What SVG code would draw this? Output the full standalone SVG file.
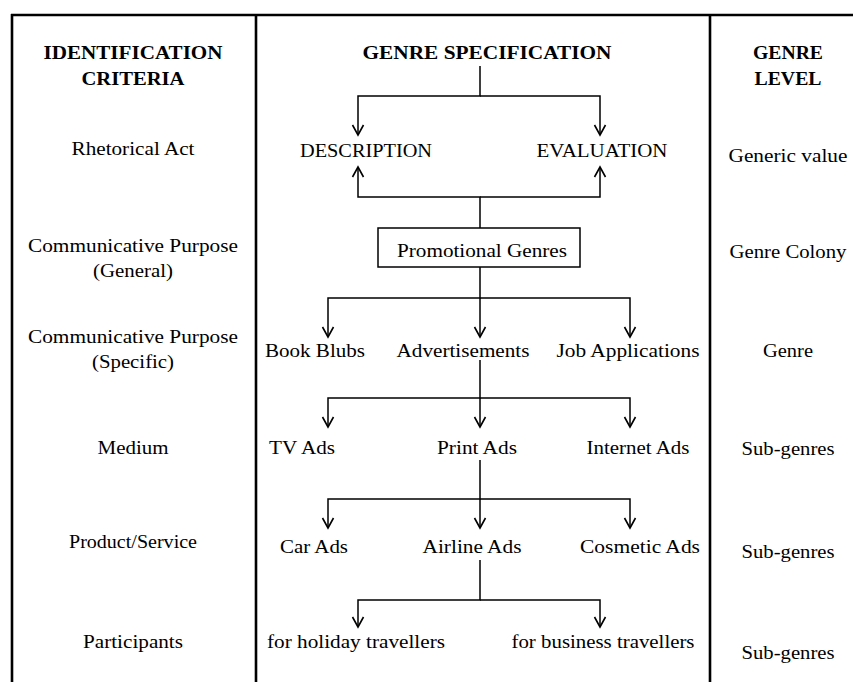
<svg xmlns="http://www.w3.org/2000/svg" width="853" height="682" viewBox="0 0 853 682">
  <style>
    .frame { stroke: #000; stroke-width: 2.6; fill: none; }
    .link { stroke: #000; stroke-width: 1.5; fill: none; }
    .arrow { marker-end: url(#open-arrow); }
    text { font-family: "Liberation Serif", "Times New Roman", serif; font-size: 18px; fill: #000; text-anchor: middle; }
    .head { font-weight: bold; }
  </style>
  <defs>
    <marker id="open-arrow" markerUnits="userSpaceOnUse" viewBox="-12 -7 14 14" markerWidth="14" markerHeight="14" refX="0" refY="0" orient="auto">
      <path d="M-10,-5.5 L0,0 L-10,5.5" fill="none" stroke="#000" stroke-width="1.6"/>
    </marker>
  </defs>

  <rect width="853" height="682" fill="#fff"/>

  <!-- table frame: top rule, left edge and two column dividers -->
  <g id="frame">
    <path class="frame" d="M11,15 H853"/>
    <path class="frame" d="M12,14 V682"/>
    <path class="frame" d="M256,15 V682"/>
    <path class="frame" d="M710,15 V682"/>
  </g>

  <!-- column headings -->
  <g id="heading-criteria">
    <text class="head" x="133" y="59" textLength="179" lengthAdjust="spacingAndGlyphs">IDENTIFICATION</text>
    <text class="head" x="133" y="85" textLength="103" lengthAdjust="spacingAndGlyphs">CRITERIA</text>
  </g>
  <g id="heading-specification">
    <text class="head" x="487" y="59" textLength="249" lengthAdjust="spacingAndGlyphs">GENRE SPECIFICATION</text>
  </g>
  <g id="heading-level">
    <text class="head" x="788" y="59" textLength="70" lengthAdjust="spacingAndGlyphs">GENRE</text>
    <text class="head" x="788" y="85" textLength="67" lengthAdjust="spacingAndGlyphs">LEVEL</text>
  </g>

  <!-- identification criteria column -->
  <g id="criteria">
    <text x="133" y="155" textLength="123" lengthAdjust="spacingAndGlyphs">Rhetorical Act</text>
    <text x="133" y="252" textLength="210" lengthAdjust="spacingAndGlyphs">Communicative Purpose</text>
    <text x="133" y="277" textLength="80" lengthAdjust="spacingAndGlyphs">(General)</text>
    <text x="133" y="343" textLength="210" lengthAdjust="spacingAndGlyphs">Communicative Purpose</text>
    <text x="133" y="368" textLength="82" lengthAdjust="spacingAndGlyphs">(Specific)</text>
    <text x="133" y="454" textLength="71" lengthAdjust="spacingAndGlyphs">Medium</text>
    <text x="133" y="548" textLength="128" lengthAdjust="spacingAndGlyphs">Product/Service</text>
    <text x="133" y="648" textLength="100" lengthAdjust="spacingAndGlyphs">Participants</text>
  </g>

  <!-- genre level column -->
  <g id="levels">
    <text x="788" y="162" textLength="119" lengthAdjust="spacingAndGlyphs">Generic value</text>
    <text x="788" y="258" textLength="117" lengthAdjust="spacingAndGlyphs">Genre Colony</text>
    <text x="788" y="357" textLength="50" lengthAdjust="spacingAndGlyphs">Genre</text>
    <text x="788" y="455" textLength="93" lengthAdjust="spacingAndGlyphs">Sub-genres</text>
    <text x="788" y="558" textLength="93" lengthAdjust="spacingAndGlyphs">Sub-genres</text>
    <text x="788" y="659" textLength="93" lengthAdjust="spacingAndGlyphs">Sub-genres</text>
  </g>

  <!-- genre specification nodes -->
  <g id="description"><text x="366" y="157" textLength="132" lengthAdjust="spacingAndGlyphs">DESCRIPTION</text></g>
  <g id="evaluation"><text x="602" y="157" textLength="131" lengthAdjust="spacingAndGlyphs">EVALUATION</text></g>
  <g id="promotional-genres">
    <rect x="378" y="228" width="202" height="39" fill="#fff" stroke="#000" stroke-width="1.5"/>
    <text x="482" y="257" textLength="170" lengthAdjust="spacingAndGlyphs">Promotional Genres</text>
  </g>
  <g id="book-blubs"><text x="315" y="357" textLength="100" lengthAdjust="spacingAndGlyphs">Book Blubs</text></g>
  <g id="advertisements"><text x="463" y="357" textLength="133" lengthAdjust="spacingAndGlyphs">Advertisements</text></g>
  <g id="job-applications"><text x="628" y="357" textLength="143" lengthAdjust="spacingAndGlyphs">Job Applications</text></g>
  <g id="tv-ads"><text x="302" y="454" textLength="66" lengthAdjust="spacingAndGlyphs">TV Ads</text></g>
  <g id="print-ads"><text x="477" y="454" textLength="80" lengthAdjust="spacingAndGlyphs">Print Ads</text></g>
  <g id="internet-ads"><text x="638" y="454" textLength="103" lengthAdjust="spacingAndGlyphs">Internet Ads</text></g>
  <g id="car-ads"><text x="314" y="553" textLength="68" lengthAdjust="spacingAndGlyphs">Car Ads</text></g>
  <g id="airline-ads"><text x="472" y="553" textLength="99" lengthAdjust="spacingAndGlyphs">Airline Ads</text></g>
  <g id="cosmetic-ads"><text x="640" y="553" textLength="120" lengthAdjust="spacingAndGlyphs">Cosmetic Ads</text></g>
  <g id="holiday-travellers"><text x="356" y="648" textLength="178" lengthAdjust="spacingAndGlyphs">for holiday travellers</text></g>
  <g id="business-travellers"><text x="603" y="648" textLength="183" lengthAdjust="spacingAndGlyphs">for business travellers</text></g>

  <!-- connectors -->
  <g id="connectors">
    <path class="link arrow" d="M480,66 V96 H358 V135"/>
    <path class="link arrow" d="M480,96 H600 V135"/>
    <path class="link arrow" d="M480,228 V197 H358 V167"/>
    <path class="link arrow" d="M480,197 H600 V167"/>

    <path class="link arrow" d="M480,267 V298 H328 V337"/>
    <path class="link arrow" d="M480,298 V337"/>
    <path class="link arrow" d="M480,298 H630 V337"/>

    <path class="link arrow" d="M480,360 V398 H328 V427"/>
    <path class="link arrow" d="M480,398 V427"/>
    <path class="link arrow" d="M480,398 H630 V427"/>

    <path class="link arrow" d="M480,460 V499 H328 V528"/>
    <path class="link arrow" d="M480,499 V528"/>
    <path class="link arrow" d="M480,499 H630 V528"/>

    <path class="link arrow" d="M480,560 V600 H358 V627"/>
    <path class="link arrow" d="M480,600 H600 V627"/>
  </g>
</svg>
